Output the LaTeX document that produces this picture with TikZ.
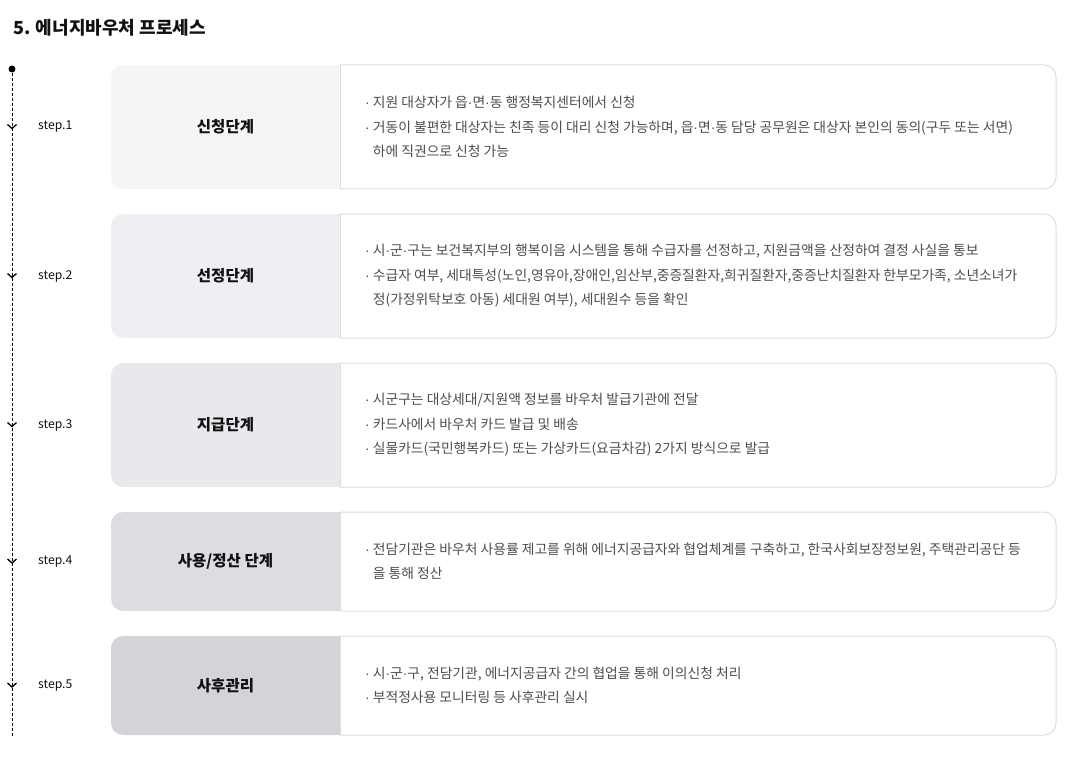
\documentclass[tikz,border=0pt]{standalone}
\usepackage{fontspec}
\newfontfamily\kr{Noto Sans CJK KR}
\newfontfamily\latinsans{Liberation Sans}
\newcommand\mdot{{\latinsans ·}}
\definecolor{stepA}{HTML}{F5F5F7}
\definecolor{stepB}{HTML}{EEEFF2}
\definecolor{stepC}{HTML}{E8E9EC}
\definecolor{stepD}{HTML}{DCDDE1}
\definecolor{stepE}{HTML}{D2D4DA}
\definecolor{cardgray}{HTML}{DDDDDD}
\definecolor{bodygray}{HTML}{4D4D4D}
\definecolor{inkblack}{HTML}{111111}
\tikzset{
  dot/.style={circle,fill=black,inner sep=0pt,minimum size=7pt},
  timeline/.style={black,line width=0.9pt,dash pattern=on 3pt off 2pt},
  chevron/.style={black,line width=1.3pt},
  cardline/.style={draw=cardgray,line width=1pt},
  stagename/.style={font=\kr\bfseries\fontsize{15.5}{18}\selectfont,text=inkblack},
  stagetext/.style={anchor=west,align=left,inner sep=0pt,text=bodygray,
    font=\kr\fontsize{13.8}{24.5}\selectfont},
  steplabel/.style={anchor=west,inner sep=0pt,text=inkblack,font=\kr\fontsize{12.2}{14}\selectfont}
}
\begin{document}
\begin{tikzpicture}[x=1pt,y=-1pt]
\useasboundingbox (0,0) rectangle (1089,778);
\node[anchor=west,inner sep=0pt,text=inkblack,font=\kr\bfseries\fontsize{18}{21}\selectfont] (heading) at (13,28) {5. 에너지바우처 프로세스};
% timeline
\node[dot] (start) at (12,69) {};
\coordinate (finish) at (12,736);
\draw[timeline] (start) -- (finish);
\foreach \top/\bot/\col/\n/\name/\txt in {
  65/189/stepA/1/신청단계/{\mdot{} 지원 대상자가 읍\mdot{}면\mdot{}동 행정복지센터에서 신청\\\mdot{} 거동이 불편한 대상자는 친족 등이 대리 신청 가능하며, 읍\mdot{}면\mdot{}동 담당 공무원은 대상자 본인의 동의(구두 또는 서면)\\\phantom{\mdot{} }하에 직권으로 신청 가능},
  214/338/stepB/2/선정단계/{\mdot{} 시\mdot{}군\mdot{}구는 보건복지부의 행복이음 시스템을 통해 수급자를 선정하고, 지원금액을 산정하여 결정 사실을 통보\\\mdot{} 수급자 여부, 세대특성(노인,영유아,장애인,임산부,중증질환자,희귀질환자,중증난치질환자 한부모가족, 소년소녀가\\\phantom{\mdot{} }정(가정위탁보호 아동) 세대원 여부), 세대원수 등을 확인},
  363/487/stepC/3/지급단계/{\mdot{} 시군구는 대상세대/지원액 정보를 바우처 발급기관에 전달\\\mdot{} 카드사에서 바우처 카드 발급 및 배송\\\mdot{} 실물카드(국민행복카드) 또는 가상카드(요금차감) 2가지 방식으로 발급},
  512/611/stepD/4/{사용/정산 단계}/{\mdot{} 전담기관은 바우처 사용률 제고를 위해 에너지공급자와 협업체계를 구축하고, 한국사회보장정보원, 주택관리공단 등\\\phantom{\mdot{} }을 통해 정산},
  636/735/stepE/5/사후관리/{\mdot{} 시\mdot{}군\mdot{}구, 전담기관, 에너지공급자 간의 협업을 통해 이의신청 처리\\\mdot{} 부적정사용 모니터링 등 사후관리 실시}}{
  \pgfmathsetmacro\mid{(\top+\bot)/2}
  % left shaded part
  \begin{scope}
    \clip (111,\top) rectangle (340,\bot);
    \fill[\col,rounded corners=12pt] (111,\top) rectangle (400,\bot);
  \end{scope}
  % right white card
  \begin{scope}
    \clip (340,\top-2) rectangle (1060,\bot+2);
    \draw[cardline,fill=white,rounded corners=12pt] (300,\top) rectangle (1056,\bot);
  \end{scope}
  \draw[cardline] (340,\top) -- (340,\bot);
  \node[stagename] (stage\n) at (225.5,\mid) {\name};
  \node[stagetext] (text\n) at (365,\mid) {\txt};
  \node[steplabel] (step\n) at (38,\mid) {step.\n};
  \draw[chevron] (7.5,\mid-2.5) -- (12,\mid+1.5) -- (16.5,\mid-2.5);
}
\end{tikzpicture}
\end{document}
